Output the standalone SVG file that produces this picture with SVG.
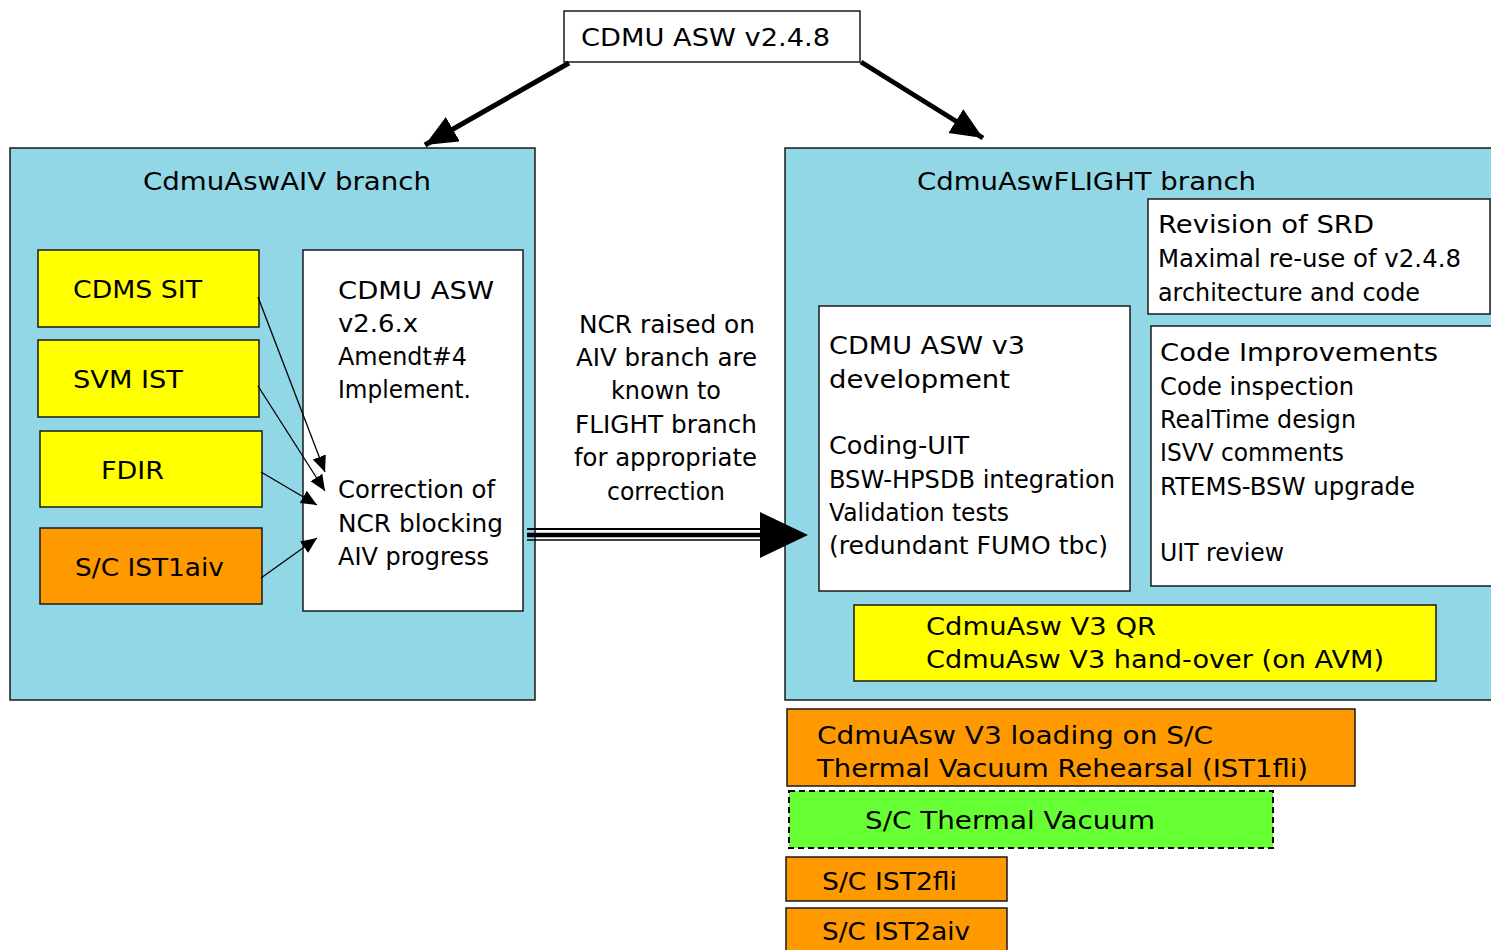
<svg xmlns="http://www.w3.org/2000/svg" width="1491" height="950" viewBox="0 0 1491 950">
  <style>
    text { font-family: "DejaVu Sans", "Liberation Sans", sans-serif; font-size: 25px; fill: #000; }
    .branch { fill: #92D7E6; stroke: #1a1a1a; stroke-width: 1.5; }
    .white { fill: #FFFFFF; stroke: #1a1a1a; stroke-width: 1.5; }
    .yellow { fill: #FFFF00; stroke: #1a1a1a; stroke-width: 1.5; }
    .orange { fill: #FF9900; stroke: #1a1a1a; stroke-width: 1.5; }
    .green { fill: #66FF33; stroke: #000; stroke-width: 2; stroke-dasharray: 6 4; }
    .thick { stroke: #000; stroke-width: 5; fill: none; }
    .thin { stroke: #000; stroke-width: 1.3; fill: none; }
  </style>
  <defs>
    <marker id="bigHead" markerUnits="userSpaceOnUse" markerWidth="34" markerHeight="30" refX="32" refY="14" orient="auto">
      <path d="M0,0 L32,14 L0,28 Z" fill="#000"/>
    </marker>
    <marker id="smallHead" markerUnits="userSpaceOnUse" markerWidth="18" markerHeight="16" refX="16" refY="8" orient="auto">
      <path d="M0,1 L16,8 L0,15 Z" fill="#000"/>
    </marker>
  </defs>

  <rect width="1491" height="950" fill="#FFFFFF"/>

  <!-- root version -->
  <g id="root">
    <rect class="white" x="564" y="11" width="296" height="51"/>
    <text x="581" y="46" textLength="249" lengthAdjust="spacingAndGlyphs">CDMU ASW v2.4.8</text>
  </g>

  <!-- AIV branch -->
  <g id="aiv-branch">
    <rect class="branch" x="10" y="148" width="525" height="552"/>
    <text x="143" y="190" textLength="288" lengthAdjust="spacingAndGlyphs">CdmuAswAIV branch</text>
  </g>
  <g id="cdms-sit">
    <rect class="yellow" x="38" y="250" width="221" height="77"/>
    <text x="73" y="298" textLength="129" lengthAdjust="spacingAndGlyphs">CDMS SIT</text>
  </g>
  <g id="svm-ist">
    <rect class="yellow" x="38" y="340" width="221" height="77"/>
    <text x="73" y="388" textLength="110" lengthAdjust="spacingAndGlyphs">SVM IST</text>
  </g>
  <g id="fdir">
    <rect class="yellow" x="40" y="431" width="222" height="76"/>
    <text x="101" y="479" textLength="63" lengthAdjust="spacingAndGlyphs">FDIR</text>
  </g>
  <g id="sc-ist1aiv">
    <rect class="orange" x="40" y="528" width="222" height="76"/>
    <text x="75" y="576" textLength="149" lengthAdjust="spacingAndGlyphs">S/C IST1aiv</text>
  </g>
  <g id="asw-v26">
    <rect class="white" x="303" y="250" width="220" height="361"/>
    <text x="338" y="299" textLength="156" lengthAdjust="spacingAndGlyphs">CDMU ASW</text>
    <text x="338" y="332" textLength="80" lengthAdjust="spacingAndGlyphs">v2.6.x</text>
    <text x="338" y="365" textLength="129" lengthAdjust="spacingAndGlyphs">Amendt#4</text>
    <text x="338" y="398" textLength="133" lengthAdjust="spacingAndGlyphs">Implement.</text>
    <text x="338" y="498" textLength="157" lengthAdjust="spacingAndGlyphs">Correction of</text>
    <text x="338" y="532" textLength="165" lengthAdjust="spacingAndGlyphs">NCR blocking</text>
    <text x="338" y="565" textLength="151" lengthAdjust="spacingAndGlyphs">AIV progress</text>
  </g>

  <!-- NCR note -->
  <g id="ncr-note">
    <text x="579" y="333" textLength="176" lengthAdjust="spacingAndGlyphs">NCR raised on</text>
    <text x="576" y="366" textLength="181" lengthAdjust="spacingAndGlyphs">AIV branch are</text>
    <text x="611" y="399" textLength="110" lengthAdjust="spacingAndGlyphs">known to</text>
    <text x="575" y="433" textLength="182" lengthAdjust="spacingAndGlyphs">FLIGHT branch</text>
    <text x="574" y="466" textLength="183" lengthAdjust="spacingAndGlyphs">for appropriate</text>
    <text x="607" y="500" textLength="118" lengthAdjust="spacingAndGlyphs">correction</text>
  </g>

  <!-- FLIGHT branch -->
  <g id="flight-branch">
    <rect class="branch" x="785" y="148" width="712" height="552"/>
    <text x="917" y="190" textLength="339" lengthAdjust="spacingAndGlyphs">CdmuAswFLIGHT branch</text>
  </g>
  <g id="srd-revision">
    <rect class="white" x="1148" y="199" width="342" height="115"/>
    <text x="1158" y="233" textLength="216" lengthAdjust="spacingAndGlyphs">Revision of SRD</text>
    <text x="1158" y="267" textLength="303" lengthAdjust="spacingAndGlyphs">Maximal re-use of v2.4.8</text>
    <text x="1158" y="301" textLength="262" lengthAdjust="spacingAndGlyphs">architecture and code</text>
  </g>
  <g id="asw-v3">
    <rect class="white" x="819" y="306" width="311" height="285"/>
    <text x="829" y="354" textLength="196" lengthAdjust="spacingAndGlyphs">CDMU ASW v3</text>
    <text x="829" y="388" textLength="181" lengthAdjust="spacingAndGlyphs">development</text>
    <text x="829" y="454" textLength="140" lengthAdjust="spacingAndGlyphs">Coding-UIT</text>
    <text x="829" y="488" textLength="286" lengthAdjust="spacingAndGlyphs">BSW-HPSDB integration</text>
    <text x="829" y="521" textLength="180" lengthAdjust="spacingAndGlyphs">Validation tests</text>
    <text x="829" y="554" textLength="279" lengthAdjust="spacingAndGlyphs">(redundant FUMO tbc)</text>
  </g>
  <g id="code-improvements">
    <rect class="white" x="1151" y="326" width="345" height="260"/>
    <text x="1160" y="361" textLength="278" lengthAdjust="spacingAndGlyphs">Code Improvements</text>
    <text x="1160" y="395" textLength="194" lengthAdjust="spacingAndGlyphs">Code inspection</text>
    <text x="1160" y="428" textLength="196" lengthAdjust="spacingAndGlyphs">RealTime design</text>
    <text x="1160" y="461" textLength="184" lengthAdjust="spacingAndGlyphs">ISVV comments</text>
    <text x="1160" y="495" textLength="255" lengthAdjust="spacingAndGlyphs">RTEMS-BSW upgrade</text>
    <text x="1160" y="561" textLength="124" lengthAdjust="spacingAndGlyphs">UIT review</text>
  </g>
  <g id="v3-qr">
    <rect class="yellow" x="854" y="605" width="582" height="76"/>
    <text x="926" y="635" textLength="230" lengthAdjust="spacingAndGlyphs">CdmuAsw V3 QR</text>
    <text x="926" y="668" textLength="458" lengthAdjust="spacingAndGlyphs">CdmuAsw V3 hand-over (on AVM)</text>
  </g>

  <!-- test campaign steps -->
  <g id="v3-loading">
    <rect class="orange" x="787" y="709" width="568" height="77"/>
    <text x="817" y="744" textLength="396" lengthAdjust="spacingAndGlyphs">CdmuAsw V3 loading on S/C</text>
    <text x="817" y="777" textLength="491" lengthAdjust="spacingAndGlyphs">Thermal Vacuum Rehearsal (IST1fli)</text>
  </g>
  <g id="sc-thermal-vacuum">
    <rect class="green" x="789" y="791" width="484" height="57"/>
    <text x="865" y="829" textLength="290" lengthAdjust="spacingAndGlyphs">S/C Thermal Vacuum</text>
  </g>
  <g id="sc-ist2fli">
    <rect class="orange" x="786" y="857" width="221" height="44"/>
    <text x="822" y="890" textLength="135" lengthAdjust="spacingAndGlyphs">S/C IST2fli</text>
  </g>
  <g id="sc-ist2aiv">
    <rect class="orange" x="786" y="908" width="221" height="50"/>
    <text x="822" y="940" textLength="148" lengthAdjust="spacingAndGlyphs">S/C IST2aiv</text>
  </g>

  <!-- connectors -->
  <g id="connectors">
    <line class="thick" x1="569" y1="63" x2="425" y2="145" marker-end="url(#bigHead)"/>
    <line class="thick" x1="861" y1="62" x2="983" y2="138" marker-end="url(#bigHead)"/>

    <line class="thin" x1="258" y1="297" x2="325" y2="472" marker-end="url(#smallHead)"/>
    <line class="thin" x1="258" y1="386" x2="325" y2="491" marker-end="url(#smallHead)"/>
    <line class="thin" x1="261" y1="472" x2="317" y2="505" marker-end="url(#smallHead)"/>
    <line class="thin" x1="261" y1="578" x2="317" y2="538" marker-end="url(#smallHead)"/>

    <!-- triple-line transfer arrow -->
    <line x1="527" y1="529" x2="762" y2="529" stroke="#000" stroke-width="2"/>
    <line x1="527" y1="535" x2="762" y2="535" stroke="#000" stroke-width="4.5"/>
    <line x1="527" y1="540" x2="762" y2="540" stroke="#000" stroke-width="1.5"/>
    <path d="M760,512 L808,535 L760,558 Z" fill="#000"/>
  </g>
</svg>
